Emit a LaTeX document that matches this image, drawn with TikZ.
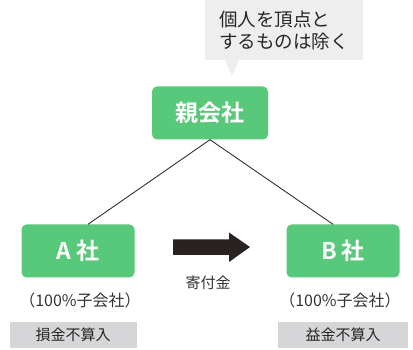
\documentclass[tikz,border=0pt]{standalone}
\usepackage{fontspec}
\newfontfamily\jp{Noto Sans CJK JP}
\newfontfamily\jpb{Noto Sans CJK JP Bold}
\usetikzlibrary{calc}
\definecolor{grn}{RGB}{88,200,122}
\definecolor{bub}{RGB}{238,238,238}
\definecolor{gbox}{RGB}{214,214,217}
\definecolor{arr}{RGB}{40,34,34}
\tikzset{
  co/.style={draw=none,fill=grn,rounded corners=5pt,text=white,font=\jpb\fontsize{23}{26}\selectfont,inner sep=0pt},
  lbl/.style={font=\jp\fontsize{16}{18}\selectfont,text=black!80},
  gb/.style={fill=gbox,inner sep=0pt,font=\jp\fontsize{15}{17}\selectfont,text=black!85},
  ln/.style={draw=black!80,line width=0.9pt}
}
\begin{document}
\begin{tikzpicture}[x=1pt,y=-1pt]
\useasboundingbox (0,0) rectangle (413,350);
% bubble
\fill[bub] (232,76) -- (225,60) -- (239,60) -- cycle;
\node[fill=bub,minimum width=158pt,minimum height=60pt,inner sep=0pt,align=left,font=\jp\fontsize{18.5}{22}\selectfont,text=black!85] (bub) at (284,30) {個人を頂点と\\するものは除く};
% companies
\node[co,minimum width=116pt,minimum height=53pt] (p) at (210,113) {親会社};
\node[co,minimum width=113pt,minimum height=53pt] (a) at (78,251) {A 社};
\node[co,minimum width=113pt,minimum height=53pt] (b) at (343,251) {B 社};
\coordinate (ae) at ($(a.north)+(10,0)$);
\coordinate (be) at ($(b.north)+(-10,0)$);
\draw[ln] (ae) -- (p.south) -- (be);
% arrow
\coordinate (t0) at (173,247);
\coordinate (t1) at (250,247);
\fill[arr] (t0) ++(0,-7.5) -- ++(56,0) -- ++(0,-7) -- (t1) -- ++(-21,15) -- ++(0,-7) -- ++(-56,0) -- cycle;
\node[font=\jp\fontsize{15}{17}\selectfont,text=black!80] (g) at (208,283) {寄付金};
% labels
\node[lbl] (la) at (80,300) {（100\%子会社）};
\node[lbl] (lb) at (340,300) {（100\%子会社）};
\node[gb,minimum width=127pt,minimum height=26pt] (sa) at (73,335) {損金不算入};
\node[gb,minimum width=130pt,minimum height=26pt] (sb) at (343,335) {益金不算入};
\end{tikzpicture}
\end{document}
